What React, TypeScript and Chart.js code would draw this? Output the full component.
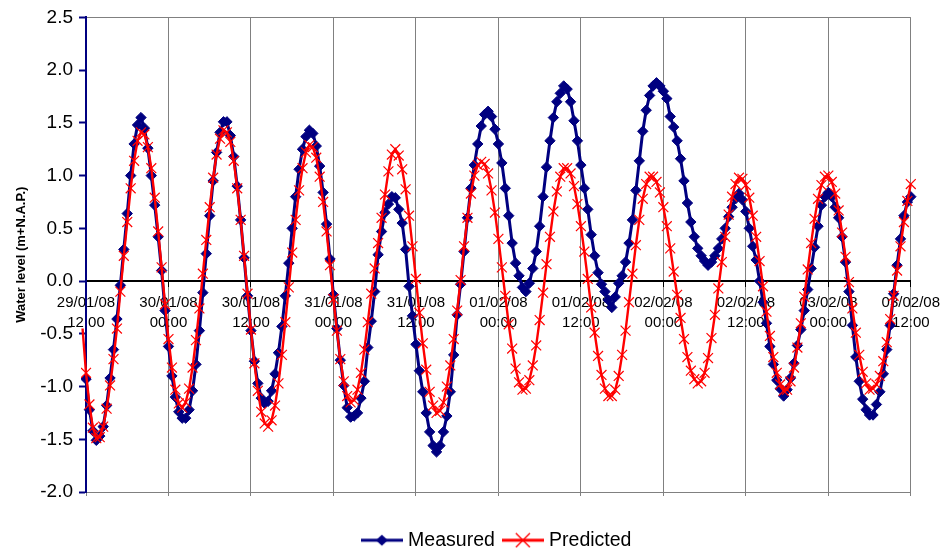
import React, { useEffect, useRef } from 'react';
import { Chart, registerables } from 'chart.js';

Chart.register(...registerables);

// Tick labels of the time axis (one every 12 hours)
const TICK_DATES = ['29/01/08', '30/01/08', '30/01/08', '31/01/08', '31/01/08', '01/02/08', '01/02/08', '02/02/08', '02/02/08', '03/02/08', '03/02/08'];
const TICK_TIMES = ['12:00', '00:00', '12:00', '00:00', '12:00', '00:00', '12:00', '00:00', '12:00', '00:00', '12:00'];

// Sampling: one value every half hour, hours counted from 29/01/08 12:00
const STEP_HOURS = 0.5;
const MEASURED_START = 0;
const PREDICTED_START = -0.5;

const SERIES_NAMES = ['Measured', 'Predicted'];

// Water level, measured (m+N.A.P.)
const MEASURED = [
  -0.93, -1.22, -1.42, -1.51, -1.47, -1.38, -1.18, -0.92, -0.65, -0.36,
  -0.04, 0.30, 0.64, 1.00, 1.30, 1.48, 1.55, 1.45, 1.26, 1.00,
  0.72, 0.42, 0.10, -0.28, -0.62, -0.90, -1.10, -1.24, -1.30, -1.30,
  -1.22, -1.04, -0.79, -0.47, -0.11, 0.26, 0.62, 0.95, 1.22, 1.41,
  1.51, 1.51, 1.38, 1.18, 0.90, 0.58, 0.22, -0.14, -0.47, -0.76,
  -0.97, -1.11, -1.16, -1.14, -1.04, -0.88, -0.68, -0.43, -0.14, 0.17,
  0.50, 0.80, 1.06, 1.25, 1.37, 1.43, 1.40, 1.28, 1.09, 0.84,
  0.54, 0.21, -0.13, -0.45, -0.75, -0.99, -1.20, -1.29, -1.28, -1.25,
  -1.11, -0.95, -0.63, -0.38, -0.10, 0.25, 0.47, 0.65, 0.73, 0.80,
  0.79, 0.68, 0.55, 0.30, -0.05, -0.33, -0.60, -0.85, -1.05, -1.25,
  -1.43, -1.56, -1.62, -1.56, -1.43, -1.28, -1.05, -0.70, -0.32, -0.03,
  0.28, 0.60, 0.88, 1.10, 1.30, 1.47, 1.58, 1.61, 1.56, 1.44,
  1.30, 1.12, 0.88, 0.62, 0.36, 0.17, 0.05, -0.06, -0.10, -0.02,
  0.12, 0.28, 0.52, 0.80, 1.08, 1.33, 1.55, 1.70, 1.78, 1.85,
  1.82, 1.70, 1.52, 1.33, 1.10, 0.88, 0.68, 0.44, 0.24, 0.08,
  -0.03, -0.10, -0.18, -0.25, -0.15, -0.02, 0.05, 0.18, 0.36, 0.58,
  0.86, 1.14, 1.42, 1.62, 1.76, 1.85, 1.88, 1.85, 1.80, 1.73,
  1.56, 1.46, 1.33, 1.16, 0.95, 0.74, 0.56, 0.42, 0.31, 0.24,
  0.19, 0.15, 0.18, 0.24, 0.31, 0.40, 0.50, 0.61, 0.70, 0.78,
  0.83, 0.77, 0.66, 0.50, 0.33, 0.20, 0.00, -0.20, -0.40, -0.62,
  -0.79, -0.94, -1.02, -1.09, -1.03, -0.92, -0.78, -0.61, -0.46, -0.28,
  -0.08, 0.12, 0.32, 0.52, 0.72, 0.80, 0.84, 0.80, 0.70, 0.60,
  0.42, 0.18, -0.10, -0.42, -0.72, -0.95, -1.12, -1.22, -1.27, -1.27,
  -1.17, -1.05, -0.88, -0.65, -0.42, -0.12, 0.15, 0.40, 0.62, 0.75,
  0.80, 0.82,
];

// Water level, predicted (m+N.A.P.)
const PREDICTED = [
  -0.45,
  -0.87, -1.17, -1.39, -1.49, -1.48, -1.38, -1.21, -0.99, -0.74, -0.45,
  -0.10, 0.24, 0.56, 0.88, 1.14, 1.33, 1.41, 1.39, 1.27, 1.07,
  0.79, 0.47, 0.13, -0.22, -0.55, -0.82, -1.03, -1.16, -1.20, -1.15,
  -1.02, -0.82, -0.56, -0.26, 0.07, 0.39, 0.70, 0.98, 1.20, 1.35,
  1.43, 1.41, 1.32, 1.14, 0.88, 0.58, 0.24, -0.12, -0.46, -0.78,
  -1.04, -1.24, -1.35, -1.38, -1.32, -1.18, -0.97, -0.70, -0.39, -0.06,
  0.27, 0.58, 0.86, 1.07, 1.22, 1.29, 1.27, 1.17, 0.99, 0.75,
  0.47, 0.15, -0.17, -0.47, -0.74, -0.95, -1.09, -1.15, -1.13, -1.03,
  -0.87, -0.65, -0.39, -0.12, 0.12, 0.36, 0.60, 0.82, 1.04, 1.20,
  1.25, 1.19, 1.06, 0.87, 0.62, 0.33, 0.02, -0.30, -0.59, -0.84,
  -1.05, -1.18, -1.25, -1.23, -1.15, -1.00, -0.80, -0.55, -0.28, 0.01,
  0.33, 0.60, 0.83, 1.00, 1.10, 1.13, 1.11, 1.02, 0.86, 0.65,
  0.40, 0.13, -0.14, -0.41, -0.64, -0.83, -0.96, -1.03, -1.02, -0.94,
  -0.80, -0.61, -0.37, -0.11, 0.16, 0.42, 0.66, 0.85, 0.99, 1.07,
  1.07, 1.02, 0.90, 0.73, 0.52, 0.28, 0.02, -0.25, -0.49, -0.71,
  -0.89, -1.02, -1.09, -1.09, -1.03, -0.90, -0.70, -0.47, -0.20, 0.07,
  0.34, 0.58, 0.78, 0.92, 0.99, 0.99, 0.94, 0.84, 0.70, 0.52,
  0.31, 0.09, -0.13, -0.35, -0.55, -0.72, -0.85, -0.93, -0.97, -0.95,
  -0.87, -0.73, -0.54, -0.32, -0.07, 0.18, 0.42, 0.63, 0.80, 0.92,
  0.98, 0.97, 0.91, 0.79, 0.62, 0.42, 0.19, -0.05, -0.29, -0.52,
  -0.72, -0.87, -0.98, -1.04, -1.03, -0.95, -0.82, -0.63, -0.40, -0.15,
  0.11, 0.36, 0.59, 0.78, 0.91, 0.99, 1.00, 0.94, 0.83, 0.67,
  0.46, 0.23, -0.01, -0.26, -0.49, -0.70, -0.86, -0.97, -1.03, -1.02,
  -0.98, -0.90, -0.76, -0.58, -0.36, -0.14, 0.10, 0.33, 0.56, 0.76,
  0.92, 1.06,
];

const NAVY = '#000080';
const RED = '#FF0000';
const GREY = '#808080';
const FONT = "'Liberation Sans', Arial, Helvetica, sans-serif";

function toPoints(values: number[], start: number) {
  return values.map((v, i) => ({ x: start + i * STEP_HOURS, y: v }));
}

function makeIcon(kind: 'diamond' | 'cross') {
  const c = document.createElement('canvas');
  c.width = 42;
  c.height = 16;
  const g = c.getContext('2d')!;
  const color = kind === 'diamond' ? NAVY : RED;
  g.strokeStyle = color;
  g.fillStyle = color;
  g.lineWidth = 3;
  g.beginPath();
  g.moveTo(0, 8);
  g.lineTo(42, 8);
  g.stroke();
  if (kind === 'diamond') {
    g.beginPath();
    g.moveTo(21, 2.5);
    g.lineTo(27, 8);
    g.lineTo(21, 13.5);
    g.lineTo(15, 8);
    g.closePath();
    g.fill();
  } else {
    g.lineWidth = 1.4;
    g.beginPath();
    g.moveTo(14, 1);
    g.lineTo(28, 15);
    g.moveTo(28, 1);
    g.lineTo(14, 15);
    g.stroke();
  }
  return c;
}

export default function App() {
  const ref = useRef<HTMLCanvasElement>(null);

  useEffect(() => {
    Chart.defaults.font.family = FONT;
    const icons = [makeIcon('diamond'), makeIcon('cross')];
    const chart = new Chart(ref.current as HTMLCanvasElement, {
      type: 'line',
      data: {
        datasets: [
          {
            label: SERIES_NAMES[0],
            data: toPoints(MEASURED, MEASURED_START),
            borderColor: NAVY,
            backgroundColor: NAVY,
            borderWidth: 3,
            pointStyle: 'rectRot',
            pointRadius: 5.2,
            pointBackgroundColor: NAVY,
            pointBorderColor: NAVY,
            pointBorderWidth: 1,
            tension: 0,
            order: 1,
            xAxisID: 'x',
            yAxisID: 'y',
            clip: { left: 5, top: false, right: 7, bottom: false },
          },
          {
            label: SERIES_NAMES[1],
            data: toPoints(PREDICTED, PREDICTED_START),
            borderColor: RED,
            backgroundColor: RED,
            borderWidth: 2.4,
            pointStyle: 'crossRot',
            pointRadius: (ctx: any) => (ctx.dataIndex === 0 ? 0 : 7),
            pointBorderColor: RED,
            pointBorderWidth: 1.2,
            tension: 0,
            order: 0,
            xAxisID: 'x',
            yAxisID: 'y',
            clip: { left: 5, top: false, right: 7, bottom: false },
          },
        ],
      },
      options: {
        responsive: false,
        animation: false,
        events: [],
        layout: { padding: { left: 0, right: 34, top: 16, bottom: 0 } },
        plugins: {
          tooltip: { enabled: false },
          legend: {
            position: 'bottom',
            fullSize: false,
            maxHeight: 32,
            labels: {
              usePointStyle: true,
              pointStyleWidth: 33,
              padding: 11.5,
              color: '#000',
              font: { size: 19.5, family: FONT },
              generateLabels: (c: any) =>
                c.data.datasets.map((ds: any, i: number) => ({
                  text: ds.label,
                  pointStyle: icons[i],
                  fillStyle: 'rgba(0,0,0,0)',
                  strokeStyle: 'rgba(0,0,0,0)',
                  lineWidth: 0,
                  hidden: false,
                  datasetIndex: i,
                  fontColor: '#000',
                })),
            },
          },
        },
        scales: {
          x: {
            type: 'linear',
            position: { y: 0 },
            min: 0,
            max: 120,
            afterFit: (s: any) => {
              s.height = 0;
            },
            ticks: {
              stepSize: 12,
              autoSkip: false,
              maxRotation: 0,
              minRotation: 0,
              padding: 7,
              color: '#000',
              font: { size: 15, lineHeight: 1.333, family: FONT },
              callback: (v: any) => {
                const k = Math.round(Number(v) / 12);
                return [TICK_DATES[k], TICK_TIMES[k]];
              },
            },
            grid: {
              color: (ctx: any) => (ctx.index === 0 ? 'rgba(0,0,0,0)' : GREY),
              lineWidth: 1,
              drawTicks: true,
              tickLength: 5,
              tickColor: '#000',
              tickWidth: 1,
            },
            border: { color: '#000', width: 2 },
          },
          x2: {
            type: 'linear',
            position: 'bottom',
            min: 0,
            max: 120,
            afterFit: (s: any) => {
              s.height = 27;
            },
            ticks: { display: false, stepSize: 12 },
            grid: { drawOnChartArea: false, drawTicks: true, tickLength: 4, tickColor: GREY },
            border: { color: GREY, width: 1 },
          },
          y: {
            type: 'linear',
            position: 'left',
            min: -2,
            max: 2.5,
            afterFit: (s: any) => {
              s.width = 86;
            },
            ticks: {
              stepSize: 0.5,
              padding: 6,
              color: '#000',
              font: { size: 19, family: FONT },
              callback: (v: any) => Number(v).toFixed(1),
            },
            grid: {
              color: (ctx: any) =>
                ctx.tick && Math.abs(ctx.tick.value - 2.5) < 1e-6 ? GREY : 'rgba(0,0,0,0)',
              lineWidth: 1,
              drawTicks: true,
              tickLength: 7,
              tickColor: NAVY,
              tickWidth: 2,
            },
            border: { color: NAVY, width: 2 },
            title: {
              display: true,
              text: 'Water level (m+N.A.P.)',
              color: '#000',
              font: { size: 13, weight: 'bold', family: FONT },
              padding: { top: 14, bottom: 0 },
            },
          },
        },
      } as any,
    } as any);
    return () => chart.destroy();
  }, []);

  return (
    <div style={{ position: 'absolute', left: 0, top: 0, width: 947, height: 551, background: '#fff' }}>
      <canvas ref={ref} width={947} height={551} style={{ display: 'block' }} />
    </div>
  );
}
